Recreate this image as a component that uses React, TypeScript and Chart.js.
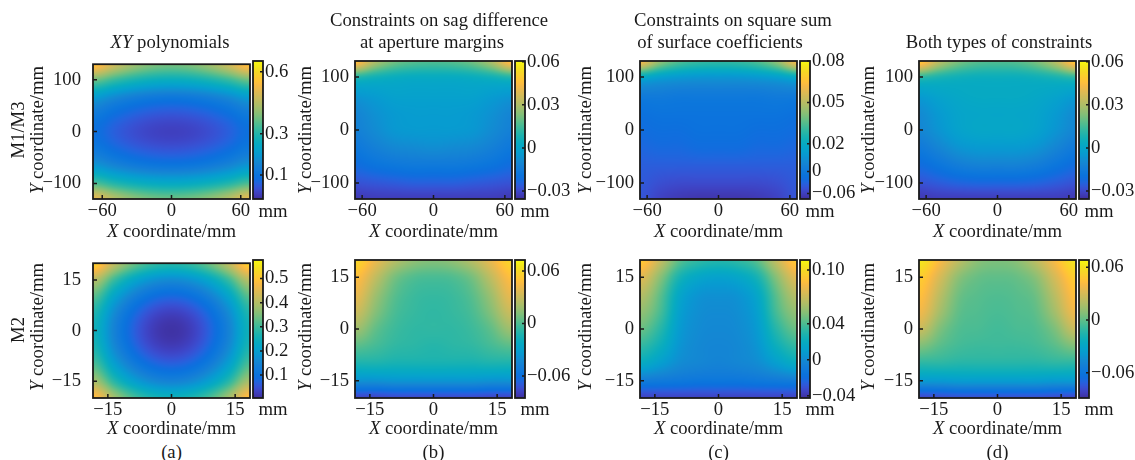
import React, { useEffect, useRef } from "react";
import { Chart, registerables } from "chart.js";

Chart.register(...registerables);

const FONT = "'Liberation Serif', 'Times New Roman', serif";
const INK = "#1a1a1a";
const FS = 18.7;

// ---------------- data: grid nodes ----------------
const xNodesM13 = [-66, -49.5, -33, -16.5, 0, 16.5, 33, 49.5, 66];
const yNodesM13 = [130, 97.5, 65, 32.5, 0, -32.5, -65, -97.5, -130];
const xNodesM2 = [-18, -13.5, -9, -4.5, 0, 4.5, 9, 13.5, 18];
const yNodesM2 = [20, 15, 10, 5, 0, -5, -10, -15, -20];

// ---------------- data: axis ticks ----------------
const xTicksM13 = [-60, 0, 60];
const xTickLabelsM13 = ["\u221260", "0", "60"];
const yTicksM13 = [-100, 0, 100];
const yTickLabelsM13 = ["\u2212100", "0", "100"];
const xTicksM2 = [-15, 0, 15];
const xTickLabelsM2 = ["\u221215", "0", "15"];
const yTicksM2 = [-15, 0, 15];
const yTickLabelsM2 = ["\u221215", "0", "15"];

// ---------------- data: surface sag (mm), rows top->bottom, cols left->right ----------------
const sagXYPolyM13 = [
  [0.56, 0.481, 0.425, 0.391, 0.38, 0.391, 0.425, 0.481, 0.56],
  [0.36, 0.312, 0.278, 0.257, 0.25, 0.257, 0.278, 0.312, 0.36],
  [0.20, 0.161, 0.133, 0.116, 0.11, 0.116, 0.133, 0.161, 0.20],
  [0.12, 0.085, 0.06, 0.045, 0.04, 0.045, 0.06, 0.085, 0.12],
  [0.09, 0.056, 0.032, 0.017, 0.012, 0.017, 0.032, 0.056, 0.09],
  [0.115, 0.081, 0.057, 0.043, 0.038, 0.043, 0.057, 0.081, 0.115],
  [0.19, 0.153, 0.126, 0.11, 0.105, 0.11, 0.126, 0.153, 0.19],
  [0.33, 0.288, 0.259, 0.241, 0.235, 0.241, 0.259, 0.288, 0.33],
  [0.51, 0.449, 0.405, 0.379, 0.37, 0.379, 0.405, 0.449, 0.51],
];
const sagMarginM13 = [
  [0.0485, 0.0312, 0.0216, 0.0178, 0.0168, 0.0178, 0.0216, 0.0312, 0.0485],
  [0.0082, 0.0053, 0.0034, 0.0024, 0.0024, 0.0024, 0.0034, 0.0053, 0.0082],
  [-0.0053, -0.0034, -0.0014, -0.0014, -0.0014, -0.0014, -0.0014, -0.0034, -0.0053],
  [-0.011, -0.0072, -0.0043, -0.0034, -0.0034, -0.0034, -0.0043, -0.0072, -0.011],
  [-0.013, -0.0091, -0.0053, -0.0043, -0.0043, -0.0043, -0.0053, -0.0091, -0.013],
  [-0.0168, -0.013, -0.0101, -0.0091, -0.0082, -0.0091, -0.0101, -0.013, -0.0168],
  [-0.0216, -0.0187, -0.0168, -0.0158, -0.0158, -0.0158, -0.0168, -0.0187, -0.0216],
  [-0.0274, -0.0264, -0.0254, -0.0245, -0.0245, -0.0245, -0.0254, -0.0264, -0.0274],
  [-0.0331, -0.0322, -0.0322, -0.0322, -0.0322, -0.0322, -0.0322, -0.0322, -0.0331],
];
const sagSquareM13 = [
  [0.0632, 0.0445, 0.0347, 0.0308, 0.0298, 0.0308, 0.0347, 0.0445, 0.0632],
  [0.0171, 0.0132, 0.0112, 0.0102, 0.0102, 0.0102, 0.0112, 0.0132, 0.0171],
  [0.0014, 0.0014, 0.0004, 0.0004, 0.0004, 0.0004, 0.0004, 0.0014, 0.0014],
  [-0.0035, -0.0025, -0.0025, -0.0025, -0.0025, -0.0025, -0.0025, -0.0025, -0.0035],
  [-0.0055, -0.0045, -0.0045, -0.0035, -0.0035, -0.0035, -0.0045, -0.0045, -0.0055],
  [-0.0074, -0.0065, -0.0065, -0.0055, -0.0055, -0.0055, -0.0065, -0.0065, -0.0074],
  [-0.0094, -0.0094, -0.0094, -0.0094, -0.0094, -0.0094, -0.0094, -0.0094, -0.0094],
  [-0.0104, -0.0124, -0.0133, -0.0133, -0.0133, -0.0133, -0.0133, -0.0124, -0.0104],
  [-0.0114, -0.0153, -0.0173, -0.0182, -0.0182, -0.0182, -0.0173, -0.0153, -0.0114],
];
const sagBothM13 = [
  [0.0504, 0.0331, 0.0226, 0.0178, 0.0168, 0.0178, 0.0226, 0.0331, 0.0504],
  [0.0101, 0.0072, 0.0053, 0.0043, 0.0043, 0.0043, 0.0053, 0.0072, 0.0101],
  [-0.0034, -0.0005, 0.0014, 0.0024, 0.0024, 0.0024, 0.0014, -0.0005, -0.0034],
  [-0.0091, -0.0043, -0.0005, 0.0005, 0.0005, 0.0005, -0.0005, -0.0043, -0.0091],
  [-0.011, -0.0062, -0.0014, 0.0005, 0.0005, 0.0005, -0.0014, -0.0062, -0.011],
  [-0.0158, -0.011, -0.0062, -0.0043, -0.0043, -0.0043, -0.0062, -0.011, -0.0158],
  [-0.0216, -0.0178, -0.0139, -0.012, -0.012, -0.012, -0.0139, -0.0178, -0.0216],
  [-0.0274, -0.0254, -0.0235, -0.0226, -0.0226, -0.0226, -0.0235, -0.0254, -0.0274],
  [-0.0331, -0.0322, -0.0322, -0.0322, -0.0322, -0.0322, -0.0322, -0.0322, -0.0331],
];
const sagXYPolyM2 = [
  [0.52, 0.415, 0.34, 0.295, 0.28, 0.295, 0.34, 0.415, 0.52],
  [0.402, 0.297, 0.222, 0.177, 0.162, 0.177, 0.222, 0.297, 0.402],
  [0.318, 0.213, 0.138, 0.093, 0.078, 0.093, 0.138, 0.213, 0.318],
  [0.267, 0.162, 0.087, 0.042, 0.027, 0.042, 0.087, 0.162, 0.267],
  [0.25, 0.145, 0.07, 0.025, 0.01, 0.025, 0.07, 0.145, 0.25],
  [0.265, 0.16, 0.085, 0.04, 0.025, 0.04, 0.085, 0.16, 0.265],
  [0.31, 0.205, 0.13, 0.085, 0.07, 0.085, 0.13, 0.205, 0.31],
  [0.385, 0.28, 0.205, 0.16, 0.145, 0.16, 0.205, 0.28, 0.385],
  [0.49, 0.385, 0.31, 0.265, 0.25, 0.265, 0.31, 0.385, 0.49],
];
const sagMarginM2 = [
  [0.0585, 0.0398, 0.0242, 0.0148, 0.0117, 0.0148, 0.0242, 0.0398, 0.0585],
  [0.0476, 0.0273, 0.0086, 0.0008, -0.0008, 0.0008, 0.0086, 0.0273, 0.0476],
  [0.0398, 0.018, 0.0024, -0.0039, -0.0054, -0.0039, 0.0024, 0.018, 0.0398],
  [0.0304, 0.0117, -0.0008, -0.0054, -0.007, -0.0054, -0.0008, 0.0117, 0.0304],
  [0.018, 0.0039, -0.0039, -0.007, -0.007, -0.007, -0.0039, 0.0039, 0.018],
  [0.0024, -0.0023, -0.007, -0.0086, -0.0101, -0.0086, -0.007, -0.0023, 0.0024],
  [-0.0132, -0.0132, -0.0148, -0.0148, -0.0148, -0.0148, -0.0148, -0.0132, -0.0132],
  [-0.0382, -0.0382, -0.0366, -0.0366, -0.0366, -0.0366, -0.0366, -0.0382, -0.0382],
  [-0.0772, -0.0772, -0.0756, -0.0756, -0.0756, -0.0756, -0.0756, -0.0772, -0.0772],
];
const sagSquareM2 = [
  [0.0916, 0.0672, 0.0427, 0.0335, 0.0304, 0.0335, 0.0427, 0.0672, 0.0916],
  [0.0763, 0.0519, 0.0259, 0.0151, 0.0121, 0.0151, 0.0259, 0.0519, 0.0763],
  [0.0641, 0.0427, 0.0151, 0.0044, 0.0029, 0.0044, 0.0151, 0.0427, 0.0641],
  [0.0549, 0.0381, 0.0106, 0.0014, -0.0002, 0.0014, 0.0106, 0.0381, 0.0549],
  [0.0457, 0.0304, 0.0075, -0.0002, -0.0017, -0.0002, 0.0075, 0.0304, 0.0457],
  [0.0335, 0.0213, 0.0044, -0.0017, -0.0032, -0.0017, 0.0044, 0.0213, 0.0335],
  [0.0182, 0.009, -0.0002, -0.0032, -0.0048, -0.0032, -0.0002, 0.009, 0.0182],
  [-0.0093, -0.0109, -0.0124, -0.0139, -0.0139, -0.0139, -0.0124, -0.0109, -0.0093],
  [-0.0353, -0.0353, -0.0353, -0.0353, -0.0353, -0.0353, -0.0353, -0.0353, -0.0353],
];
const sagBothM2 = [
  [0.0612, 0.0407, 0.0219, 0.0093, 0.0062, 0.0093, 0.0219, 0.0407, 0.0612],
  [0.0502, 0.0298, 0.0093, 0.0015, -0.0001, 0.0015, 0.0093, 0.0298, 0.0502],
  [0.0439, 0.0219, 0.0031, -0.0017, -0.0032, -0.0017, 0.0031, 0.0219, 0.0439],
  [0.0376, 0.0156, -0.0001, -0.0032, -0.0048, -0.0032, -0.0001, 0.0156, 0.0376],
  [0.025, 0.0062, -0.0032, -0.0048, -0.0064, -0.0048, -0.0032, 0.0062, 0.025],
  [0.0062, -0.0017, -0.0064, -0.0079, -0.0079, -0.0079, -0.0064, -0.0017, 0.0062],
  [-0.0126, -0.0126, -0.0142, -0.0142, -0.0142, -0.0142, -0.0142, -0.0126, -0.0126],
  [-0.0378, -0.0378, -0.0362, -0.0362, -0.0362, -0.0362, -0.0362, -0.0378, -0.0378],
  [-0.0802, -0.0786, -0.077, -0.077, -0.077, -0.077, -0.077, -0.0786, -0.0802],
];

// ---------------- data: colour bar ranges and ticks ----------------
const cbRangeXYPolyM13 = [-0.016, 0.652];
const cbTicksXYPolyM13 = [0.1, 0.3, 0.6];
const cbLabelsXYPolyM13 = ["0.1", "0.3", "0.6"];
const cbRangeMarginM13 = [-0.0355, 0.0605];
const cbTicksMarginM13 = [-0.03, 0, 0.03, 0.06];
const cbLabelsMarginM13 = ["\u22120.03", "0", "0.03", "0.06"];
const cbRangeSquareM13 = [-0.02, 0.08];
const cbTicksSquareM13 = [-0.016, 0, 0.02, 0.05, 0.08];
const cbLabelsSquareM13 = ["\u22120.06", "0", "0.02", "0.05", "0.08"];
const cbRangeBothM13 = [-0.0355, 0.0605];
const cbTicksBothM13 = [-0.03, 0, 0.03, 0.06];
const cbLabelsBothM13 = ["\u22120.03", "0", "0.03", "0.06"];
const cbRangeXYPolyM2 = [0.005, 0.577];
const cbTicksXYPolyM2 = [0.1, 0.2, 0.3, 0.4, 0.5];
const cbLabelsXYPolyM2 = ["0.1", "0.2", "0.3", "0.4", "0.5"];
const cbRangeMarginM2 = [-0.085, 0.0725];
const cbTicksMarginM2 = [-0.06, 0, 0.06];
const cbLabelsMarginM2 = ["\u22120.06", "0", "0.06"];
const cbRangeSquareM2 = [-0.0425, 0.111];
const cbTicksSquareM2 = [-0.04, 0, 0.04, 0.1];
const cbLabelsSquareM2 = ["\u22120.04", "0", "0.04", "0.10"];
const cbRangeBothM2 = [-0.0886, 0.0682];
const cbTicksBothM2 = [-0.06, 0, 0.06];
const cbLabelsBothM2 = ["\u22120.06", "0", "0.06"];

// axis ranges
const xRangeM13a = [-68, 68];
const xRangeM13 = [-66, 66];
const yRangeM13 = [-130, 130];
const xRangeM2 = [-18.5, 18.5];
const yRangeM2 = [-20, 20];

// ---------------- colormap (parula-like) ----------------
const PARULA = [
  [0.245, 0.19, 0.62], [0.25, 0.21, 0.67], [0.25, 0.235, 0.72], [0.245, 0.26, 0.765],
  [0.235, 0.29, 0.8], [0.215, 0.32, 0.83], [0.185, 0.35, 0.85], [0.15, 0.38, 0.865],
  [0.11, 0.405, 0.87], [0.07, 0.425, 0.87], [0.05, 0.44, 0.868], [0.045, 0.455, 0.865],
  [0.05, 0.4686, 0.8601], [0.0629, 0.4787, 0.8554], [0.0723, 0.4887, 0.8467], [0.0779, 0.504, 0.8384],
  [0.0793, 0.52, 0.8312], [0.0749, 0.5375, 0.8263], [0.0641, 0.557, 0.824], [0.0488, 0.5772, 0.8228],
  [0.0343, 0.5966, 0.8199], [0.0265, 0.6137, 0.8135], [0.0239, 0.6287, 0.8038], [0.0231, 0.6418, 0.7913],
  [0.0228, 0.6535, 0.7768], [0.0267, 0.6642, 0.7607], [0.0384, 0.6743, 0.7436], [0.059, 0.6838, 0.7254],
  [0.0843, 0.6928, 0.7062], [0.1133, 0.7015, 0.6859], [0.1453, 0.7098, 0.6646], [0.1801, 0.7177, 0.6424],
  [0.2178, 0.725, 0.6193], [0.2586, 0.7317, 0.5954], [0.3022, 0.7376, 0.5712], [0.3482, 0.7424, 0.5473],
  [0.3953, 0.7459, 0.5244], [0.442, 0.7481, 0.5033], [0.4871, 0.7491, 0.484], [0.53, 0.7491, 0.4661],
  [0.5709, 0.7485, 0.4494], [0.6099, 0.7473, 0.4337], [0.6473, 0.7456, 0.4188], [0.6834, 0.7435, 0.4044],
  [0.7184, 0.7411, 0.3905], [0.7525, 0.7384, 0.3768], [0.7858, 0.7356, 0.3633], [0.8185, 0.7327, 0.3498],
  [0.8507, 0.7299, 0.336], [0.8824, 0.7274, 0.3217], [0.9139, 0.7258, 0.3063], [0.945, 0.7261, 0.2886],
  [0.9739, 0.7314, 0.2666], [0.9938, 0.7455, 0.2403], [0.999, 0.7653, 0.2164], [0.9955, 0.7861, 0.1967],
  [0.988, 0.8066, 0.1794], [0.9789, 0.8271, 0.1633], [0.9697, 0.8481, 0.1475], [0.9626, 0.8705, 0.1309],
  [0.9589, 0.8949, 0.1132], [0.9598, 0.9218, 0.0948], [0.9661, 0.9514, 0.0755], [0.9763, 0.9831, 0.0538],
];

function cmap(n: number): [number, number, number] {
  const c = Math.max(0, Math.min(1, n));
  const f = c * (PARULA.length - 1);
  const i = Math.min(PARULA.length - 2, Math.floor(f));
  const t = f - i;
  const a = PARULA[i], b = PARULA[i + 1];
  return [
    (a[0] * (1 - t) + b[0] * t) * 255,
    (a[1] * (1 - t) + b[1] * t) * 255,
    (a[2] * (1 - t) + b[2] * t) * 255,
  ];
}

function cr(p0: number, p1: number, p2: number, p3: number, t: number) {
  return 0.5 * (2 * p1 + (-p0 + p2) * t + (2 * p0 - 5 * p1 + 4 * p2 - p3) * t * t + (-p0 + 3 * p1 - 3 * p2 + p3) * t * t * t);
}
const ci = (i: number, n: number) => Math.max(0, Math.min(n - 1, i));

function sampleGrid(grid: number[][], fx: number, fy: number) {
  const ny = grid.length, nx = grid[0].length;
  const gx = Math.max(0, Math.min(nx - 1, fx));
  const gy = Math.max(0, Math.min(ny - 1, fy));
  const ix = Math.min(nx - 2, Math.floor(gx)), iy = Math.min(ny - 2, Math.floor(gy));
  const tx = gx - ix, ty = gy - iy;
  const r: number[] = [];
  for (let m = -1; m <= 2; m++) {
    const row = grid[ci(iy + m, ny)];
    r.push(cr(row[ci(ix - 1, nx)], row[ix], row[ci(ix + 1, nx)], row[ci(ix + 2, nx)], tx));
  }
  return cr(r[0], r[1], r[2], r[3], ty);
}

// ---------------- layout constants ----------------
const BOX_W = 157;
const BOX_H = 138;
const CB_W = 10;
const PAD_L = 70, PAD_T = 20, PAD_R = 20, PAD_B = 30;
const CB_AXIS_W = 60;
const COL_LEFT = [93, 355, 640, 919];
const ROW_TOP = [61, 260];
const Y_PAD = [12, 6, 6, 6];

type PanelCfg = {
  col: number; row: number;
  grid: number[][]; xNodes: number[]; yNodes: number[];
  xRange: number[]; yRange: number[];
  xTicks: number[]; xLabels: string[]; yTicks: number[]; yLabels: string[];
  cbRange: number[]; cbTicks: number[]; cbLabels: string[];
};

const PANELS: PanelCfg[] = [
  { col: 0, row: 0, grid: sagXYPolyM13, xNodes: xNodesM13, yNodes: yNodesM13, xRange: xRangeM13a, yRange: yRangeM13, xTicks: xTicksM13, xLabels: xTickLabelsM13, yTicks: yTicksM13, yLabels: yTickLabelsM13, cbRange: cbRangeXYPolyM13, cbTicks: cbTicksXYPolyM13, cbLabels: cbLabelsXYPolyM13 },
  { col: 1, row: 0, grid: sagMarginM13, xNodes: xNodesM13, yNodes: yNodesM13, xRange: xRangeM13, yRange: yRangeM13, xTicks: xTicksM13, xLabels: xTickLabelsM13, yTicks: yTicksM13, yLabels: yTickLabelsM13, cbRange: cbRangeMarginM13, cbTicks: cbTicksMarginM13, cbLabels: cbLabelsMarginM13 },
  { col: 2, row: 0, grid: sagSquareM13, xNodes: xNodesM13, yNodes: yNodesM13, xRange: xRangeM13, yRange: yRangeM13, xTicks: xTicksM13, xLabels: xTickLabelsM13, yTicks: yTicksM13, yLabels: yTickLabelsM13, cbRange: cbRangeSquareM13, cbTicks: cbTicksSquareM13, cbLabels: cbLabelsSquareM13 },
  { col: 3, row: 0, grid: sagBothM13, xNodes: xNodesM13, yNodes: yNodesM13, xRange: xRangeM13, yRange: yRangeM13, xTicks: xTicksM13, xLabels: xTickLabelsM13, yTicks: yTicksM13, yLabels: yTickLabelsM13, cbRange: cbRangeBothM13, cbTicks: cbTicksBothM13, cbLabels: cbLabelsBothM13 },
  { col: 0, row: 1, grid: sagXYPolyM2, xNodes: xNodesM2, yNodes: yNodesM2, xRange: xRangeM2, yRange: yRangeM2, xTicks: xTicksM2, xLabels: xTickLabelsM2, yTicks: yTicksM2, yLabels: yTickLabelsM2, cbRange: cbRangeXYPolyM2, cbTicks: cbTicksXYPolyM2, cbLabels: cbLabelsXYPolyM2 },
  { col: 1, row: 1, grid: sagMarginM2, xNodes: xNodesM2, yNodes: yNodesM2, xRange: xRangeM2, yRange: yRangeM2, xTicks: xTicksM2, xLabels: xTickLabelsM2, yTicks: yTicksM2, yLabels: yTickLabelsM2, cbRange: cbRangeMarginM2, cbTicks: cbTicksMarginM2, cbLabels: cbLabelsMarginM2 },
  { col: 2, row: 1, grid: sagSquareM2, xNodes: xNodesM2, yNodes: yNodesM2, xRange: xRangeM2, yRange: yRangeM2, xTicks: xTicksM2, xLabels: xTickLabelsM2, yTicks: yTicksM2, yLabels: yTickLabelsM2, cbRange: cbRangeSquareM2, cbTicks: cbTicksSquareM2, cbLabels: cbLabelsSquareM2 },
  { col: 3, row: 1, grid: sagBothM2, xNodes: xNodesM2, yNodes: yNodesM2, xRange: xRangeM2, yRange: yRangeM2, xTicks: xTicksM2, xLabels: xTickLabelsM2, yTicks: yTicksM2, yLabels: yTickLabelsM2, cbRange: cbRangeBothM2, cbTicks: cbTicksBothM2, cbLabels: cbLabelsBothM2 },
];

const tickFont = { family: FONT, size: FS };

function Panel({ p }: { p: PanelCfg }) {
  const hRef = useRef<HTMLCanvasElement>(null);
  const cRef = useRef<HTMLCanvasElement>(null);
  const left = COL_LEFT[p.col];
  const top = ROW_TOP[p.row];
  const cbLeft = left + BOX_W + 3;
  const hW = PAD_L + BOX_W + PAD_R, hH = PAD_T + BOX_H + PAD_B;
  const cW = 5 + CB_W + CB_AXIS_W, cH = PAD_T + BOX_H + PAD_T;

  useEffect(() => {
    const [vmin, vmax] = p.cbRange;
    const heatPlugin = {
      id: "heat",
      beforeDatasetsDraw(chart: any) {
        const { ctx, chartArea: a, scales } = chart;
        const xs = scales.x, ys = scales.y;
        const L = Math.round(a.left), T = Math.round(a.top);
        const w = Math.round(a.right) - L, h = Math.round(a.bottom) - T;
        const img = ctx.createImageData(w, h);
        const nx = p.xNodes.length, ny = p.yNodes.length;
        const x0 = p.xNodes[0], x1 = p.xNodes[nx - 1];
        const y0 = p.yNodes[0], y1 = p.yNodes[ny - 1];
        const fxs: number[] = [];
        for (let i = 0; i < w; i++) {
          const xv = xs.getValueForPixel(L + i + 0.5);
          fxs.push(((xv - x0) / (x1 - x0)) * (nx - 1));
        }
        for (let j = 0; j < h; j++) {
          const yv = ys.getValueForPixel(T + j + 0.5);
          const fy = ((yv - y0) / (y1 - y0)) * (ny - 1);
          for (let i = 0; i < w; i++) {
            const v = sampleGrid(p.grid, fxs[i], fy);
            const c = cmap((v - vmin) / (vmax - vmin));
            const k = (j * w + i) * 4;
            img.data[k] = c[0]; img.data[k + 1] = c[1]; img.data[k + 2] = c[2]; img.data[k + 3] = 255;
          }
        }
        ctx.putImageData(img, L, T);
      },
      afterDraw(chart: any) {
        const { ctx, chartArea: a, scales } = chart;
        ctx.save();
        ctx.strokeStyle = INK;
        ctx.lineWidth = 1.5;
        ctx.beginPath();
        p.xTicks.forEach((v) => {
          const px = scales.x.getPixelForValue(v);
          ctx.moveTo(px, a.bottom); ctx.lineTo(px, a.bottom - 4);
        });
        p.yTicks.forEach((v) => {
          const py = scales.y.getPixelForValue(v);
          ctx.moveTo(a.left, py); ctx.lineTo(a.left + 4, py);
        });
        ctx.stroke();
        ctx.lineWidth = 1.8;
        ctx.strokeRect(a.left, a.top, a.right - a.left, a.bottom - a.top);
        ctx.restore();
      },
    };

    const cbPlugin = {
      id: "cbar",
      beforeDatasetsDraw(chart: any) {
        const { ctx, chartArea: a, scales } = chart;
        const T = Math.round(a.top), B = Math.round(a.bottom);
        for (let py = T; py < B; py++) {
          const v = scales.y.getValueForPixel(py + 0.5);
          const c = cmap((v - vmin) / (vmax - vmin));
          ctx.fillStyle = `rgb(${c[0] | 0},${c[1] | 0},${c[2] | 0})`;
          ctx.fillRect(a.left, py, a.right - a.left, 1);
        }
      },
      afterDraw(chart: any) {
        const { ctx, chartArea: a, scales } = chart;
        ctx.save();
        ctx.strokeStyle = INK;
        ctx.lineWidth = 1.5;
        ctx.beginPath();
        p.cbTicks.forEach((v) => {
          const py = scales.y.getPixelForValue(v);
          ctx.moveTo(a.right, py); ctx.lineTo(a.right - 3, py);
        });
        ctx.stroke();
        ctx.lineWidth = 1.8;
        ctx.strokeRect(a.left, a.top, a.right - a.left, a.bottom - a.top);
        ctx.restore();
      },
    };

    const heat = new Chart(hRef.current as HTMLCanvasElement, {
      type: "scatter",
      data: { datasets: [] },
      options: {
        animation: false,
        responsive: false,
        maintainAspectRatio: false,
        devicePixelRatio: 1,
        events: [],
        layout: { padding: { left: 0, top: PAD_T, right: PAD_R, bottom: 0 } },
        plugins: { legend: { display: false }, tooltip: { enabled: false } },
        scales: {
          x: {
            type: "linear",
            position: "bottom",
            min: p.xRange[0],
            max: p.xRange[1],
            afterBuildTicks: (s: any) => { s.ticks = p.xTicks.map((v) => ({ value: v })); },
            afterFit: (s: any) => { s.height = PAD_B; },
            grid: { display: false, drawTicks: false },
            border: { display: false },
            ticks: { padding: 1, color: INK, font: tickFont, autoSkip: false, maxRotation: 0, minRotation: 0, callback: (_v: any, i: number) => p.xLabels[i] },
          },
          y: {
            type: "linear",
            position: "left",
            min: p.yRange[0],
            max: p.yRange[1],
            afterBuildTicks: (s: any) => { s.ticks = p.yTicks.map((v) => ({ value: v })); },
            afterFit: (s: any) => { s.width = PAD_L; },
            grid: { display: false, drawTicks: false },
            border: { display: false },
            ticks: { padding: Y_PAD[p.col], color: INK, font: tickFont, autoSkip: false, callback: (_v: any, i: number) => p.yLabels[i] },
          },
        },
      } as any,
      plugins: [heatPlugin],
    });

    const bar = new Chart(cRef.current as HTMLCanvasElement, {
      type: "scatter",
      data: { datasets: [] },
      options: {
        animation: false,
        responsive: false,
        maintainAspectRatio: false,
        devicePixelRatio: 1,
        events: [],
        layout: { padding: { left: 5, top: PAD_T, right: 0, bottom: PAD_T } },
        plugins: { legend: { display: false }, tooltip: { enabled: false } },
        scales: {
          x: { type: "linear", display: false, min: 0, max: 1 },
          y: {
            type: "linear",
            position: "right",
            min: vmin,
            max: vmax,
            afterBuildTicks: (s: any) => { s.ticks = p.cbTicks.map((v) => ({ value: v })); },
            afterFit: (s: any) => { s.width = CB_AXIS_W; },
            grid: { display: false, drawTicks: false },
            border: { display: false },
            ticks: { padding: 2, color: INK, font: tickFont, autoSkip: false, callback: (_v: any, i: number) => p.cbLabels[i] },
          },
        },
      } as any,
      plugins: [cbPlugin],
    });

    return () => { heat.destroy(); bar.destroy(); };
  }, []);

  return (
    <>
      <canvas ref={hRef} width={hW} height={hH}
        style={{ position: "absolute", left: left - PAD_L, top: top - PAD_T, width: hW, height: hH }} />
      <canvas ref={cRef} width={cW} height={cH}
        style={{ position: "absolute", left: cbLeft - 5, top: top - PAD_T, width: cW, height: cH }} />
    </>
  );
}

function Txt({ x, y, rot, children }: { x: number; y: number; rot?: boolean; children: any }) {
  return (
    <div style={{
      position: "absolute", left: x, top: y,
      transform: `translate(-50%, -50%)${rot ? " rotate(-90deg)" : ""}`,
      whiteSpace: "nowrap", fontSize: FS, lineHeight: `${FS}px`, fontFamily: FONT, color: INK,
    }}>{children}</div>
  );
}

const Y_LABEL_X = [37, 305, 585, 868];
const ROW_MID = [129.5, 327];
const PANEL_TAGS = ["(a)", "(b)", "(c)", "(d)"];

export default function App() {
  const boxMid = (c: number) => COL_LEFT[c] + BOX_W / 2;
  return (
    <div style={{ position: "absolute", left: 0, top: 0, width: 1135, height: 460, background: "#fff", overflow: "hidden" }}>
      {PANELS.map((p, i) => <Panel key={i} p={p} />)}

      <Txt x={170} y={42}><i>XY</i> polynomials</Txt>
      <Txt x={439} y={20}>Constraints on sag difference</Txt>
      <Txt x={432} y={42}>at aperture margins</Txt>
      <Txt x={733} y={20}>Constraints on square sum</Txt>
      <Txt x={720} y={42}>of surface coefficients</Txt>
      <Txt x={999} y={42}>Both types of constraints</Txt>

      <Txt x={18} y={130} rot>M1/M3</Txt>
      <Txt x={18} y={330} rot>M2</Txt>

      {[0, 1].map((r) =>
        [0, 1, 2, 3].map((c) => (
          <React.Fragment key={`${r}-${c}`}>
            <Txt x={Y_LABEL_X[c]} y={ROW_MID[r]} rot><i>Y</i> coordinate/mm</Txt>
            <Txt x={boxMid(c)} y={r === 0 ? 231 : 428}><i>X</i> coordinate/mm</Txt>
            <Txt x={COL_LEFT[c] + BOX_W + 3 + 20} y={r === 0 ? 210.5 : 409}>mm</Txt>
          </React.Fragment>
        ))
      )}
      {PANEL_TAGS.map((t, c) => <Txt key={t} x={boxMid(c)} y={451.5}>{t}</Txt>)}
    </div>
  );
}
